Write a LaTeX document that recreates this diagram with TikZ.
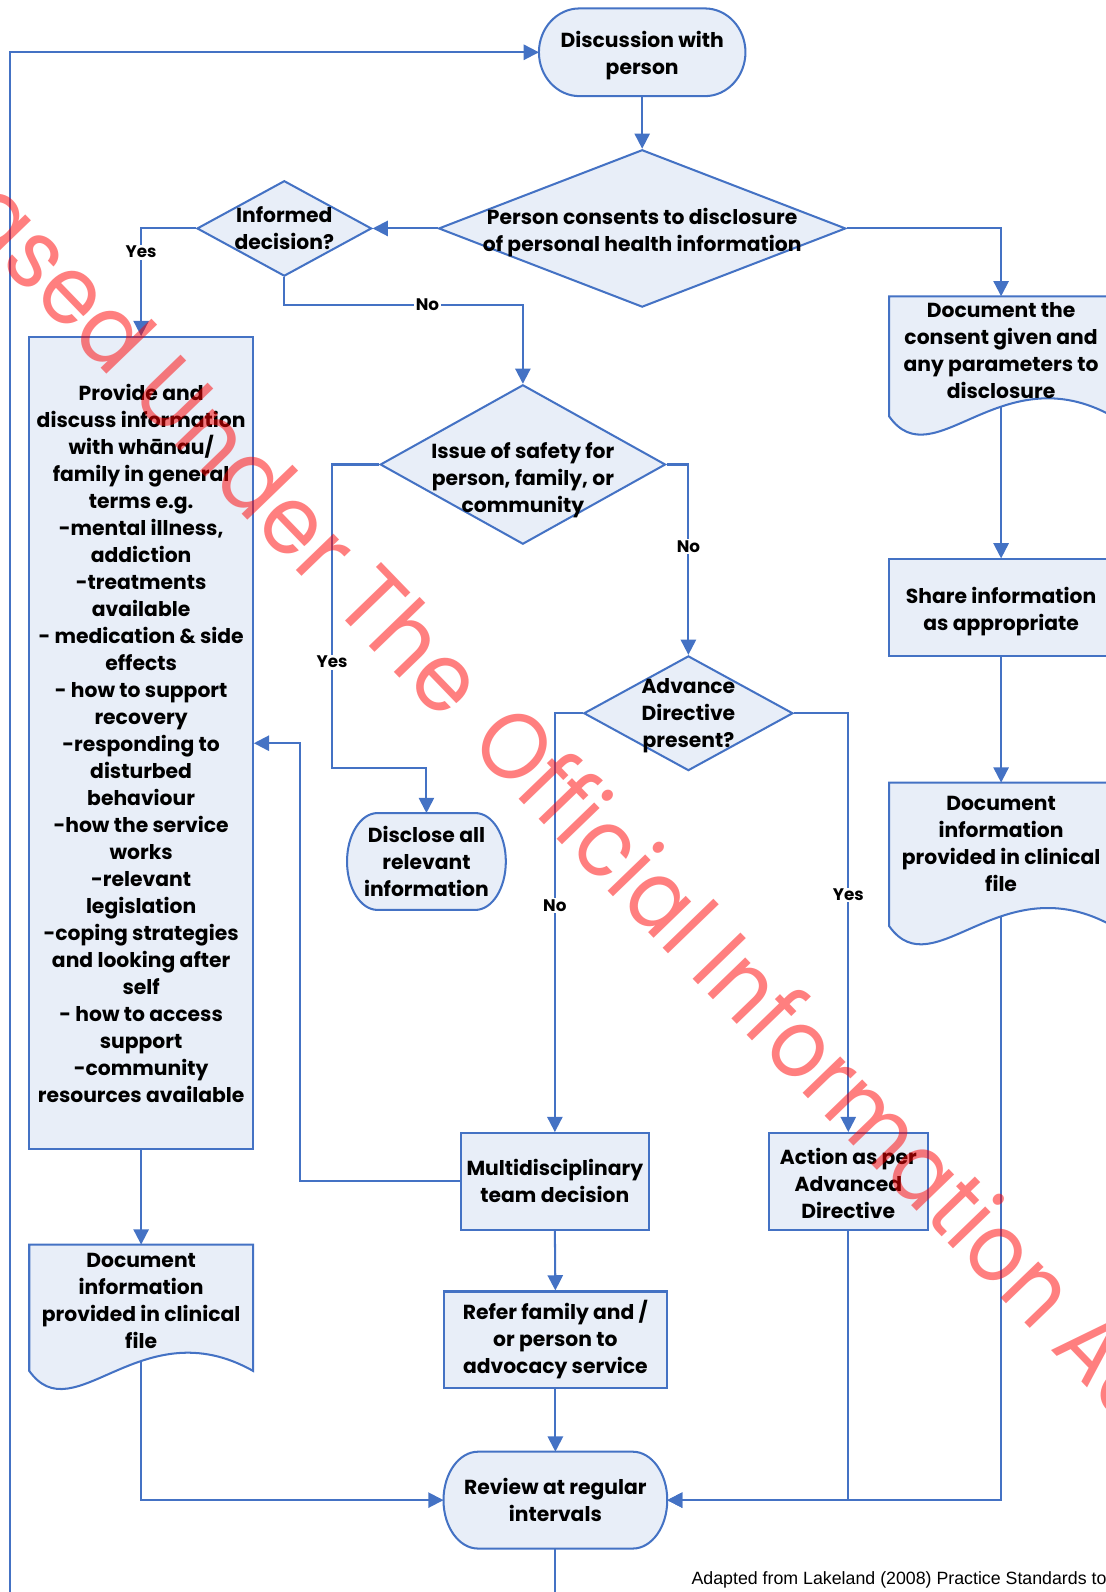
\documentclass[tikz,border=0pt]{standalone}
\usepackage{fontspec}
\setmainfont{Poppins}
\newfontfamily\notefont{Liberation Sans}
\newfontfamily\stampfont[FakeStretch=0.94]{Poppins}
\newfontfamily\stampfontnarrow[FakeStretch=0.895]{Poppins}
\usetikzlibrary{shapes.geometric,arrows.meta,calc}
\definecolor{flowblue}{HTML}{4472C4}
\definecolor{flowfill}{HTML}{E8EEF8}
\pgfdeclarelayer{lines}
\pgfdeclarelayer{shapes}
\pgfsetlayers{lines,shapes,main}
\tikzset{
  sz/.style 2 args={minimum width=#1pt, minimum height=#2pt},
  txt/.style={font=\fontsize{20}{26.6}\selectfont\bfseries, align=center, inner sep=0pt, text=black},
  proc/.style={txt, rectangle, draw=flowblue, fill=flowfill, line width=2pt},
  frame/.style={txt, rectangle},
  decision/.style={diamond, draw=flowblue, fill=flowfill, line width=2pt, inner sep=0pt},
  outline/.style={draw=flowblue, fill=flowfill, line width=2pt},
  conn/.style={draw=flowblue, line width=2pt},
  flow/.style={conn, -{Triangle[length=15pt, width=15pt]}},
  lbl/.style={font=\fontsize{16.5}{20}\selectfont\bfseries, fill=white, inner sep=1.5pt},
  stamp/.style={text=red, text opacity=0.5, rotate=-46, inner sep=0pt},
}
% outline with elliptical ends around the frame of node #1, end radius #2
\newcommand\terminatorpath[2]{%
  \path[outline] let \p1=(#1.north west), \p2=(#1.south east) in
    (\x1+#2pt,\y1) -- (\x2-#2pt,\y1)
    arc[start angle=90, end angle=-90, x radius=#2pt, y radius={(\y1-\y2)/2}]
    -- (\x1+#2pt,\y2)
    arc[start angle=270, end angle=90, x radius=#2pt, y radius={(\y1-\y2)/2}] -- cycle;}
% document outline with a wavy lower edge around the frame of node #1
\newcommand\documentpath[1]{%
  \path[outline] let \p1=(#1.north west), \p2=(#1.south east) in
    (\p1) -- (\x2,\y1) -- (\p2)
    .. controls ({0.5*\x1+0.5*\x2}, \y2+62pt) and ({0.8*\x1+0.2*\x2}, \y2-62pt) .. (\x1,\y2)
    -- cycle;}

\begin{document}
\begin{tikzpicture}[x=1pt, y=-1pt]
\useasboundingbox (0,0) rectangle (1089,1568);

% ---- steps and decisions
\node[frame, sz={203}{86}] (disc) at (632.5,51.5) {};
\node[txt] (disct) at (632.5,55) {Discussion with\\person};
\node[decision, sz={401}{155}] (consent) at (632.5,225) {};
\node[txt] (consentt) at (632.5,229) {Person consents to disclosure\\of personal health information};
\node[decision, sz={172}{94}] (inf) at (280,225) {};
\node[txt] (inft) at (280,224.5) {Informed\\decision?};
\node[decision, sz={281}{157}] (issue) at (515,457.5) {};
\node[txt] (issuet) at (515,473) {Issue of safety for\\person, family, or\\community};
\node[decision, sz={206}{113}] (adv) at (678,702.5) {};
\node[txt] (advt) at (678,704.5) {Advance\\Directive\\present?};
\node[proc, sz={220}{800}] (provide) at (139,732) {Provide and\\discuss information\\with whānau/\\family in general\\terms e.g.\\-mental illness,\\addiction\\-treatments\\available\\- medication \& side\\effects\\- how to support\\recovery\\-responding to\\disturbed\\behaviour\\-how the service\\works\\-relevant\\legislation\\-coping strategies\\and looking after\\self\\- how to access\\support\\-community\\resources available};
\node[frame, sz={156}{95}] (disclose) at (420,848.5) {Disclose all\\relevant\\information};
\node[frame, sz={220}{124}] (docl) at (139,1288) {};
\node[txt] (doclt) at (139,1281) {Document\\information\\provided in clinical\\file};
\node[frame, sz={220}{118}] (docc) at (986,351) {};
\node[txt] (docct) at (986,345) {Document the\\consent given and\\any parameters to\\disclosure};
\node[proc, sz={220}{95}] (share) at (986,598.5) {};
\node[txt] (sharet) at (986,602.5) {Share information\\as appropriate};
\node[frame, sz={220}{141}] (docr) at (986,841.5) {};
\node[txt] (docrt) at (986,831.5) {Document\\information\\provided in clinical\\file};
\node[proc, sz={185}{95}] (mdt) at (546.5,1163.5) {Multidisciplinary\\team decision};
\node[proc, sz={220}{95}] (refer) at (547,1319.5) {Refer family and /\\or person to\\advocacy service};
\node[frame, sz={220}{95}] (review) at (547,1477.5) {Review at regular\\intervals};
\node[proc, sz={157}{95}] (action) at (835.5,1163.5) {};
\node[txt] (actiont) at (835.5,1166) {Action as per\\Advanced\\Directive};

% ---- outlines of rounded and document shapes
\begin{pgfonlayer}{shapes}
\terminatorpath{disc}{40}
\terminatorpath{disclose}{30}
\terminatorpath{review}{34}
\documentpath{docl}
\documentpath{docc}
\documentpath{docr}
\end{pgfonlayer}

% ---- connectors
\begin{pgfonlayer}{lines}
\draw[flow] (disc.south) -- (consent.north);
\draw[flow] (consent.west) -- (inf.east);
\draw[flow] (inf.west) -| node[lbl, pos=0.61] (yesinf) {Yes} (provide.north);
\coordinate (infdrop) at (280,300);
\draw[flow] (inf.south) -- (infdrop) -| node[lbl, pos=0.3] (noinf) {No} (issue.north);
\draw[flow] (consent.east) -| (docc.north);
\draw[flow] (docc.center) -- (share.north);
\draw[flow] (share.south) -- (docr.north);
\draw[flow] (docr.center) |- (review.east);
\draw[flow] (action.south) |- (review.east);
\coordinate (safeleft) at (327,457.5);
\coordinate (safedown) at (327,756);
\draw[flow] (issue.west) -- (safeleft) -- node[lbl, pos=0.652] (yessafe) {Yes} (safedown) -| (disclose.north);
\draw[flow] (issue.east) -| node[lbl, pos=0.716] (nosafe) {No} (adv.north);
\draw[flow] (adv.west) -| node[lbl, pos=0.73] (noadv) {No} (mdt.north);
\draw[flow] (adv.east) -| node[lbl, pos=0.717] (yesadv) {Yes} (action.north);
\coordinate (mdtturn) at (295,1163.5);
\draw[flow] (mdt.west) -- (mdtturn) |- (provide.east);
\draw[flow] (provide.south) -- (docl.north);
\draw[flow] (docl.center) |- (review.west);
\draw[flow] (mdt.south) -- (refer.north);
\draw[flow] (refer.south) -- (review.north);
\coordinate (loopbase) at (10,1620);
\draw[flow] (review.south) |- (loopbase) |- (disc.west);
\end{pgfonlayer}

% ---- source note
\node[font=\notefont\fontsize{17.5}{20}\selectfont, anchor=base west, inner sep=0pt] (note) at (681,1561) {Adapted from Lakeland (2008) Practice Standards to};

% ---- release stamp
\node[stamp, font=\stampfont\fontsize{94}{100}\selectfont, anchor=base east] (stampa) at (437,712) {Released Under The};
\node[stamp, font=\stampfontnarrow\fontsize{94}{100}\selectfont, anchor=base west] (stampb) at (460,734) {Official Information Act};
\end{tikzpicture}
\end{document}
